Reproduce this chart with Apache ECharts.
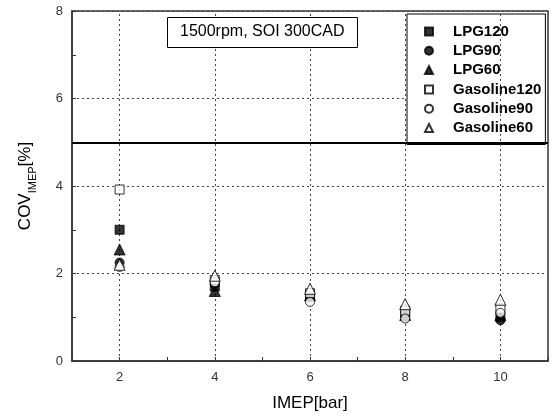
<!DOCTYPE html>
<html><head><meta charset="utf-8">
<script src="https://cdn.jsdelivr.net/npm/echarts@6/dist/echarts.min.js"></script>
<style>html,body{margin:0;padding:0;background:#fff}#c{width:552px;height:417px}</style>
</head><body><div id="c"></div>
<script>
var imep = [2, 4, 6, 8, 10];
var lpg120 = [3.0, 1.7, 1.5, 1.1, 1.0];
var lpg90 = [2.25, 1.75, 1.45, 1.0, 0.93];
var lpg60 = [2.55, 1.6, 1.5, 1.05, 1.05];
var gas120 = [3.92, 1.85, 1.55, 1.15, 1.2];
var gas90 = [2.15, 1.8, 1.35, 0.97, 1.1];
var gas60 = [2.2, 1.95, 1.65, 1.3, 1.4];
var xGrid = [2, 4, 6, 8, 10];
var limitLine = 5;
var titleText = '1500rpm, SOI 300CAD';

function pts(arr){ return imep.map(function(x,i){ return [x, arr[i]]; }); }
function mk(name, arr, symbol, filled){
  return {
    name: name, type: 'scatter', data: pts(arr), symbol: symbol,
    symbolSize: symbol === 'triangle' ? 11 : 9,
    itemStyle: filled ? {color:'#000', borderColor:'#000', borderWidth:1} : {color:'#fff', borderColor:'#000', borderWidth:1},
    z: 5
  };
}
var chart = echarts.init(document.getElementById('c'));
chart.setOption({
  animation: false,
  backgroundColor: '#fff',
  title: {
    text: titleText, left: 167, top: 17,
    padding: [7, 13, 8, 13],
    borderColor: '#000', borderWidth: 1, backgroundColor: '#fff',
    textStyle: {fontFamily: 'Liberation Sans, Arial', fontSize: 16, fontWeight: 'normal', color: '#000'}
  },
  legend: {
    orient: 'vertical', left: 407, top: 14,
    padding: [10, 4, 9, 17],
    itemWidth: 8, itemHeight: 8, itemGap: 4.3,
    borderColor: '#000', borderWidth: 1, backgroundColor: '#fff',
    formatter: function(n){ return '{s|}{t|' + n + '}'; },
    textStyle: {rich: {
      s: {width: 15},
      t: {fontFamily: 'Liberation Sans, Arial', fontSize: 15, fontWeight: 'bold', color: '#000', lineHeight: 16}
    }},
    data: ['LPG120','LPG90','LPG60','Gasoline120','Gasoline90','Gasoline60']
  },
  grid: {left: 72, right: 4, top: 11, bottom: 54, show: true, borderColor: '#333', borderWidth: 1.5, backgroundColor: 'transparent'},
  xAxis: {
    type: 'value', min: 1, max: 11, interval: 1,
    name: 'IMEP[bar]', nameLocation: 'middle', nameGap: 34,
    nameTextStyle: {fontFamily: 'Liberation Sans, Arial', fontSize: 17, color: '#000', verticalAlign: 'top'},
    axisLine: {show: true, lineStyle: {color: '#333', width: 1.5}},
    axisTick: {show: true, inside: true, length: 4, lineStyle: {color: '#333'}},
    axisLabel: {margin: 10, fontFamily: 'Liberation Sans, Arial', fontSize: 13, color: '#333',
      formatter: function(v){ return v % 2 === 0 ? String(v) : ''; }},
    splitLine: {show: false}
  },
  yAxis: {
    type: 'value', min: 0, max: 8, interval: 2,
    name: '{a|COV}{b|IMEP}{a|[%]}', nameLocation: 'middle', nameGap: 38,
    nameTextStyle: {rich: {
      a: {fontFamily: 'Liberation Sans, Arial', fontSize: 17, color: '#000', verticalAlign: 'bottom', lineHeight: 20},
      b: {fontFamily: 'Liberation Sans, Arial', fontSize: 11, color: '#000', verticalAlign: 'bottom', padding: [0,0,-4,0], lineHeight: 20}
    }},
    axisLine: {show: true, lineStyle: {color: '#333', width: 1.5}},
    axisTick: {show: true, inside: true, length: 4, lineStyle: {color: '#333'}},
    minorTick: {show: true, splitNumber: 2, length: 4, lineStyle: {color: '#333'}},
    axisLabel: {margin: 9, fontFamily: 'Liberation Sans, Arial', fontSize: 13, color: '#333'},
    splitLine: {show: true, lineStyle: {type: [2, 3], color: '#444', width: 1}}
  },
  series: [
    mk('LPG120', lpg120, 'rect', true),
    mk('LPG90', lpg90, 'circle', true),
    mk('LPG60', lpg60, 'triangle', true),
    mk('Gasoline120', gas120, 'rect', false),
    mk('Gasoline90', gas90, 'circle', false),
    mk('Gasoline60', gas60, 'triangle', false),
    {
      name: 'grid', type: 'scatter', data: [], silent: true, z: 1,
      markLine: {
        silent: true, symbol: 'none', label: {show: false},
        lineStyle: {type: [2, 3], color: '#444', width: 1},
        data: xGrid.map(function(x){ return {xAxis: x}; })
      }
    },
    {
      name: 'limit', type: 'scatter', data: [], silent: true, z: 3,
      markLine: {
        silent: true, symbol: 'none', label: {show: false},
        lineStyle: {type: 'solid', color: '#000', width: 2},
        data: [{yAxis: limitLine}]
      }
    }
  ]
});
</script></body></html>
